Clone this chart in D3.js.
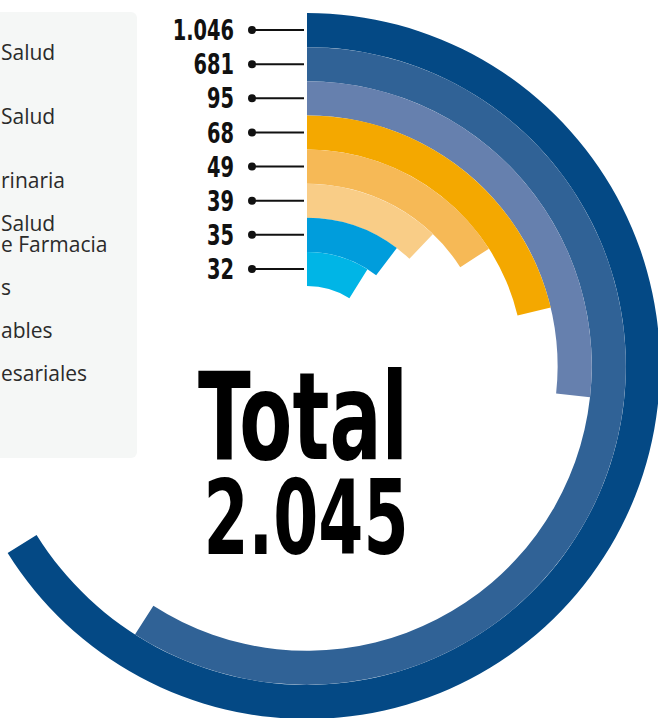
<!DOCTYPE html>
<meta charset="utf-8">
<script src="https://cdn.jsdelivr.net/npm/d3@7"></script>
<style>
  body { margin: 0; background: #fff; }
  svg { display: block; }
  .legend text {
    font-family: "Open Sans", "DejaVu Sans", sans-serif;
    font-size: 21px;
    fill: #2b2b2b;
  }
  .num {
    font-family: "Liberation Sans Narrow", "DejaVu Sans Condensed", sans-serif;
    font-weight: bold;
    font-size: 28px;
    fill: #111;
  }
  .total {
    font-family: "Liberation Sans Narrow", "DejaVu Sans Condensed", sans-serif;
    font-weight: bold;
    fill: #000;
  }
</style>
<body>
<div id="chart"></div>
<script>
//---------------------------DATA-------------------------------//
// students per area, outer ring first
const values = [1046, 681, 95, 68, 49, 39, 35, 32];
const colors = ["#044985", "#306296", "#6680ae", "#f4a800",
                "#f6b956", "#f9cd87", "#009ddc", "#00b5e6"];
// legend is cut by the left edge, only the visible ends remain
const legendItems = [
  ["", "Salud"],
  ["", "Salud"],
  ["", "rinaria"],
  ["Salud", "e Farmacia"],
  ["s"],
  ["ables"],
  ["esariales"]
];
const totalLabel = "Total";

//---------------------------SETUP------------------------------//
const width = 658;
const height = 718;
const cx = 307, cy = 366;
const outerR = 353, innerR = 80;
const squeeze = 0.77;   // condensed look for the numbers

const es = d3.formatLocale({decimal: ",", thousands: ".", grouping: [3], currency: ["", " €"]});
const fmt = es.format(",d");

const svg = d3.select("#chart").append("svg")
    .attr("width", width)
    .attr("height", height);

// rings, one band each
const r = d3.scaleBand()
    .domain(d3.range(values.length))
    .range([outerR, innerR]);

// arc length grows roughly with the log of the value
const angle = d3.scaleLog()
    .domain([d3.min(values), d3.max(values)])
    .range([32, 238]);

const arc = d3.arc()
    .innerRadius((d, i) => r(i))
    .outerRadius((d, i) => r(i) + r.bandwidth())
    .startAngle(0)
    .endAngle(d => angle(d) * Math.PI / 180);

//---------------------------LEGEND-----------------------------//
const legend = svg.append("g").attr("class", "legend");

legend.append("rect")
    .attr("x", -20)
    .attr("y", 12)
    .attr("width", 157)
    .attr("height", 446)
    .attr("rx", 6)
    .attr("fill", "#f5f7f6");

let ly = 39;
legendItems.forEach(function(lines) {
  const t = legend.append("text");
  lines.forEach(function(s, k) {
    t.append("tspan")
        .attr("x", 1)
        .attr("y", ly)
        .text(s);
    if (k < lines.length - 1) ly += 21;
  });
  ly += 43;
});

//---------------------------RINGS------------------------------//
const g = svg.append("g")
    .attr("transform", "translate(" + cx + "," + cy + ")");

g.selectAll("path.ring")
    .data(values)
    .enter()
    .append("path")
    .attr("class", "ring")
    .attr("fill", (d, i) => colors[i])
    .attr("d", (d, i) => arc(d, i));

//---------------------------LABELS-----------------------------//
const labels = g.selectAll("g.lbl")
    .data(values)
    .enter()
    .append("g")
    .attr("class", "lbl")
    .attr("transform", (d, i) => "translate(0," + (-(r(i) + r.bandwidth() / 2)) + ")");

labels.append("line")
    .attr("x1", -55)
    .attr("x2", -3)
    .attr("stroke", "#111")
    .attr("stroke-width", 2);

labels.append("circle")
    .attr("cx", -55)
    .attr("r", 4)
    .attr("fill", "#111");

labels.append("text")
    .attr("class", "num")
    .attr("transform", "scale(" + squeeze + ",1)")
    .attr("x", -73 / squeeze)
    .attr("dy", "0.36em")
    .attr("text-anchor", "end")
    .text(d => fmt(d));

//---------------------------TOTAL------------------------------//
const total = g.append("text")
    .attr("class", "total")
    .attr("text-anchor", "middle");

total.append("tspan")
    .attr("x", -4)
    .attr("y", 93)
    .attr("font-size", 122)
    .attr("textLength", 210)
    .attr("lengthAdjust", "spacingAndGlyphs")
    .text(totalLabel);

total.append("tspan")
    .attr("x", -1)
    .attr("y", 188)
    .attr("font-size", 104)
    .attr("textLength", 205)
    .attr("lengthAdjust", "spacingAndGlyphs")
    .text(fmt(d3.sum(values)));
</script>
</body>
